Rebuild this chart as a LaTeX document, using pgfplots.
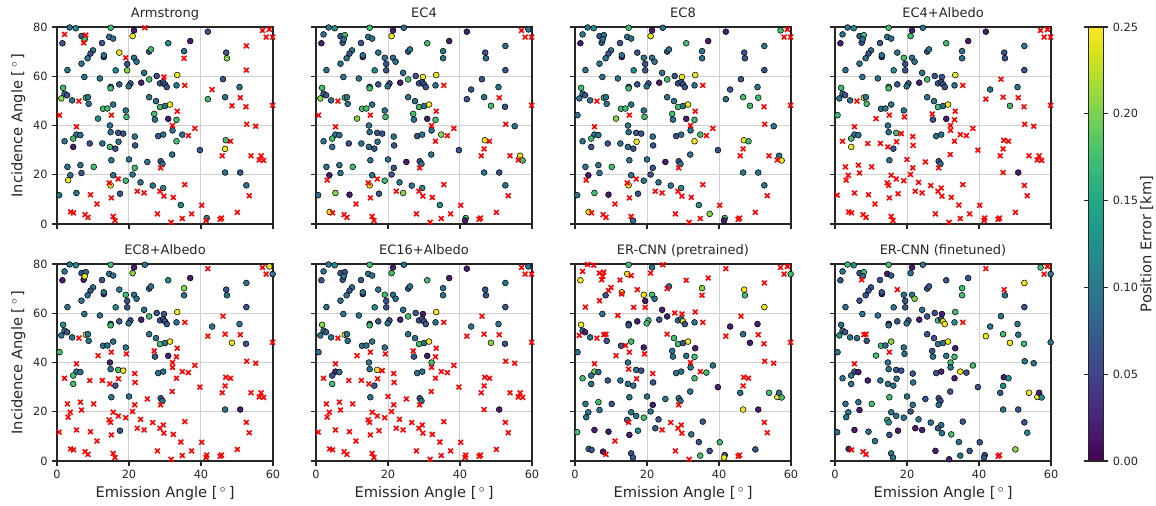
\documentclass[border=0pt]{standalone}
\usepackage{fontspec}
\setmainfont{DejaVu Sans}
\usepackage{pgfplots}
\usepackage{pgfplotstable}
\pgfplotsset{compat=1.18}
\definecolor{axgray}{RGB}{38,38,38}
\definecolor{gridgray}{RGB}{208,208,208}

% columns: a Armstrong, b EC4, c EC8, d EC4+Albedo, e EC8+Albedo, f EC16+Albedo, g ER-CNN pre, h ER-CNN fine ; -1 = failure
\pgfplotstableread{
x y a b c d e f g h
3.5 79.8 0.095 0.095 0.095 0.095 0.095 0.095 -1 0.175
5.2 79.5 0.125 0.125 0.125 0.125 0.125 0.125 -1 0.125
2.1 77.0 -1 0.095 0.095 0.095 0.095 0.095 -1 0.095
1.5 73.4 0.065 0.02 0.02 0.02 0.02 0.065 0.245 0.065
6.8 76.3 0.065 0.065 0.065 0.065 0.065 0.065 -1 0.065
8.0 76.7 -1 0.175 0.095 0.175 0.095 0.065 -1 0.175
7.4 73.6 -1 0.065 0.065 0.065 0.02 0.065 -1 -1
7.7 75.0 0.175 0.095 0.095 0.095 0.245 0.095 -1 0.095
12.5 73.5 0.065 0.065 0.065 0.065 0.065 0.065 -1 0.065
14.5 76.0 0.095 0.095 0.095 0.095 0.095 0.095 0.245 0.02
15.6 75.3 0.095 0.095 0.095 0.095 0.095 0.095 -1 0.065
14.9 79.7 0.175 0.175 0.175 0.175 0.175 0.175 0.175 0.175
21.4 78.6 0.02 0.02 0.02 0.02 0.02 0.02 0.095 0.02
21.0 76.3 0.245 0.245 0.245 0.175 0.205 0.175 -1 0.095
24.4 79.7 -1 0.095 0.095 0.095 0.095 0.095 -1 0.095
30.9 73.4 0.125 0.175 0.175 0.175 0.125 0.175 -1 0.065
37.0 74.3 0.02 0.02 0.02 0.02 0.02 0.02 -1 0.065
41.9 78.1 0.065 0.02 0.02 0.02 -1 0.02 -1 -1
52.6 72.3 -1 0.095 0.095 0.095 0.095 0.095 -1 0.245
57.1 78.6 -1 -1 0.175 -1 -1 -1 -1 0.175
59.0 79.0 -1 0.095 -1 -1 0.245 0.095 -1 -1
58.1 75.9 -1 -1 -1 -1 -1 -1 -1 -1
59.9 75.9 -1 -1 -1 -1 0.095 -1 0.175 0.095
10.0 70.5 0.095 0.095 0.095 0.095 0.095 0.095 -1 0.065
9.3 69.2 0.065 0.065 0.065 0.065 0.065 0.065 -1 0.065
8.5 67.3 0.095 0.095 0.095 0.095 0.095 0.095 0.065 0.065
6.8 65.1 0.095 0.095 0.095 0.095 0.095 0.095 -1 0.065
13.0 67.8 0.02 0.02 0.02 0.02 0.02 0.02 -1 0.02
13.0 68.5 0.095 0.095 0.095 0.095 0.095 0.095 0.245 0.065
17.3 69.6 0.245 0.095 0.065 0.095 0.095 0.095 -1 -1
19.1 67.5 -1 0.095 0.095 0.175 0.175 0.175 0.245 0.095
21.4 67.5 0.095 0.095 0.095 0.095 0.095 0.095 0.175 0.095
22.1 65.9 0.095 0.095 0.095 0.095 0.095 0.095 0.095 0.205
19.5 65.0 0.065 0.065 0.065 0.065 0.065 0.065 0.02 0.065
19.5 62.4 0.205 0.065 0.065 0.065 0.065 0.065 -1 0.065
16.3 62.4 0.125 0.125 0.125 0.125 0.125 0.125 -1 0.095
25.6 70.0 0.065 0.065 0.065 0.065 0.065 0.065 -1 0.065
26.1 70.9 0.175 0.095 0.095 0.095 0.095 0.095 0.095 0.065
35.3 70.2 0.095 0.095 0.095 0.095 0.205 0.095 0.205 0.175
35.3 67.3 -1 0.095 0.095 0.095 0.095 0.095 -1 0.175
47.0 69.6 0.065 0.065 0.065 0.065 0.065 0.065 0.245 -1
47.2 67.3 0.205 0.095 0.065 0.065 0.095 0.065 0.175 0.095
52.6 62.5 -1 0.065 0.065 0.065 0.065 0.065 0.245 0.065
2.9 62.5 0.095 0.095 0.095 0.095 0.095 0.095 -1 0.095
7.6 59.7 0.095 0.095 0.095 0.095 0.095 0.095 0.095 0.095
11.9 59.1 0.095 0.095 0.095 0.095 0.095 0.095 -1 0.095
17.3 56.7 0.065 0.065 0.065 0.065 0.065 0.065 0.02 0.065
14.9 55.7 0.095 0.095 0.095 0.175 0.095 0.095 0.065 0.02
14.9 55.1 0.175 0.175 0.175 0.175 0.175 0.175 0.065 0.095
20.4 57.1 0.065 0.065 0.065 0.065 0.065 0.065 0.175 0.065
19.9 55.9 0.095 0.095 0.095 0.095 0.095 0.095 0.175 0.095
23.4 57.4 0.02 0.02 0.02 0.02 0.02 0.02 0.065 0.02
24.2 61.4 0.095 0.095 0.095 0.095 0.095 0.095 0.02 0.095
25.6 58.7 0.175 0.175 0.175 0.175 0.175 0.175 0.02 0.065
27.7 60.1 0.065 0.065 0.065 0.065 0.065 0.065 -1 0.065
29.7 59.7 -1 0.245 0.245 0.065 0.065 0.02 -1 0.02
28.6 57.1 0.065 0.065 0.065 0.065 0.065 0.065 0.095 0.175
29.5 57.6 0.065 0.065 0.065 0.065 0.065 0.065 0.095 0.065
30.0 56.7 0.065 0.065 0.065 0.065 0.065 0.065 0.245 0.245
30.5 55.6 0.065 0.065 0.065 0.065 0.065 0.065 0.065 0.245
33.4 60.5 0.245 0.245 0.245 0.245 0.245 0.245 -1 0.175
33.2 56.3 0.095 0.095 0.095 0.095 0.095 0.095 0.095 0.125
35.5 56.3 -1 -1 -1 -1 -1 -1 -1 -1
46.1 58.8 0.065 0.065 0.065 -1 -1 -1 -1 0.095
43.1 54.6 -1 0.065 0.065 0.095 0.095 0.095 0.02 0.095
50.7 55.6 0.095 0.095 0.095 0.095 0.095 0.095 0.02 0.095
1.7 55.3 0.175 0.175 0.175 0.175 0.125 0.205 0.245 0.095
2.1 52.9 0.095 0.095 0.095 0.095 0.095 0.095 0.095 0.095
1.2 51.0 0.205 0.205 0.095 0.095 0.095 0.095 -1 0.125
2.8 52.3 0.065 0.065 0.065 0.065 0.065 0.065 0.02 0.065
4.2 50.2 0.095 0.095 0.095 0.095 0.095 0.095 0.095 0.095
6.1 49.9 -1 -1 -1 -1 -1 -1 -1 0.095
8.0 51.3 0.175 0.175 0.175 0.245 0.245 0.245 -1 -1
8.6 51.5 0.095 0.095 0.095 0.095 0.095 0.095 -1 -1
8.8 48.8 0.095 0.095 0.095 0.175 0.095 0.095 0.065 0.065
0.7 44.2 -1 -1 0.095 0.175 0.175 0.095 0.095 0.095
11.4 42.8 0.125 0.205 0.205 -1 -1 -1 -1 0.175
12.8 46.8 0.175 0.175 0.175 0.095 0.095 0.095 0.065 0.175
14.0 46.9 0.175 0.175 0.175 0.095 0.095 0.095 -1 0.095
15.6 48.5 0.095 0.095 0.095 0.095 0.095 0.095 0.175 0.205
15.1 44.2 -1 -1 -1 -1 -1 -1 -1 -1
19.1 46.1 0.095 0.095 0.095 0.095 0.095 0.095 0.02 0.095
19.3 43.5 0.175 0.175 0.175 -1 -1 -1 -1 0.095
25.6 51.5 0.095 0.095 0.095 0.095 0.095 0.095 -1 0.065
27.5 49.9 0.095 0.095 0.095 0.095 0.095 0.095 0.175 0.065
28.6 47.5 0.175 0.175 0.175 0.175 0.175 0.175 0.175 0.095
30.0 47.9 0.095 0.095 0.095 0.095 0.095 0.095 0.065 0.095
31.4 48.5 0.245 0.245 0.245 0.245 0.245 0.245 0.245 0.245
33.4 45.8 -1 -1 -1 -1 -1 -1 0.02 0.02
27.0 44.7 0.175 0.175 0.175 -1 -1 -1 0.095 0.065
27.2 42.4 0.095 0.095 0.095 0.065 0.065 0.065 0.095 0.095
30.9 42.7 0.02 0.02 0.02 0.02 0.02 0.02 0.095 0.095
33.2 42.3 0.175 0.175 0.175 -1 -1 -1 0.175 0.175
41.9 50.7 0.175 0.065 0.095 -1 -1 -1 -1 0.245
46.7 51.5 0.095 0.095 0.175 -1 -1 -1 0.095 0.175
50.9 51.3 -1 -1 0.175 -1 -1 -1 -1 0.095
48.6 48.0 -1 0.175 0.175 0.175 0.245 0.205 0.02 0.245
52.5 47.6 -1 0.065 -1 -1 0.065 0.065 -1 0.175
59.9 48.2 -1 -1 -1 -1 -1 -1 -1 0.095
5.4 39.5 -1 -1 -1 -1 -1 -1 -1 -1
14.7 40.0 0.095 0.095 0.095 0.095 0.02 0.095 0.095 0.095
32.1 40.0 -1 -1 -1 -1 -1 0.175 -1 0.175
32.1 38.0 0.095 0.095 0.095 -1 -1 -1 0.095 0.095
38.3 38.8 -1 -1 -1 -1 -1 -1 0.095 0.175
52.7 40.5 -1 -1 -1 -1 -1 -1 -1 0.095
55.2 39.7 -1 0.095 0.095 -1 -1 -1 -1 0.095
5.4 36.3 0.095 0.095 0.095 0.095 0.095 0.02 0.205 0.065
6.5 36.1 0.095 0.095 0.095 0.095 0.095 0.095 0.095 0.02
4.5 34.7 0.175 0.175 0.175 0.175 0.175 0.065 0.095 0.095
2.1 33.6 0.095 0.095 0.095 -1 -1 -1 0.175 0.095
4.5 31.3 0.02 0.095 0.065 0.245 0.175 0.175 0.095 0.095
9.1 32.7 0.065 0.065 0.065 -1 -1 -1 0.065 0.02
12.6 32.7 0.095 0.095 0.095 -1 -1 -1 0.095 0.095
14.9 37.3 0.095 0.095 0.095 0.095 0.095 0.095 -1 0.095
17.0 37.0 0.065 0.065 0.065 0.175 0.175 0.245 0.095 0.065
18.4 36.7 0.065 0.065 0.065 -1 0.245 -1 0.065 0.065
17.1 33.4 0.095 0.095 0.245 -1 -1 -1 -1 0.095
14.7 31.3 0.175 0.095 0.095 -1 -1 -1 0.095 0.095
16.2 30.6 0.065 0.065 0.065 0.065 0.065 0.065 0.095 0.095
21.6 35.5 0.095 0.095 0.095 -1 -1 -1 -1 0.065
21.7 31.9 0.065 0.065 0.065 -1 -1 -1 0.065 0.095
28.1 35.7 0.065 0.065 0.065 0.095 0.095 0.095 0.095 0.065
29.5 36.3 0.095 0.095 0.095 0.095 0.095 0.095 0.095 0.02
33.2 33.6 0.175 -1 0.245 -1 -1 -1 0.175 0.02
34.8 36.3 0.095 0.205 0.175 -1 -1 -1 -1 0.245
36.5 35.9 -1 -1 -1 -1 -1 -1 0.175 0.065
46.9 34.0 0.175 0.245 0.245 -1 -1 -1 -1 0.02
48.2 33.6 -1 -1 0.175 -1 -1 -1 -1 0.125
46.7 30.5 0.245 -1 -1 -1 -1 -1 -1 0.125
39.7 30.0 0.065 0.065 0.065 -1 -1 -1 0.02 0.065
32.0 28.2 0.095 0.095 0.095 -1 -1 -1 0.095 0.065
45.9 27.7 -1 -1 -1 -1 -1 -1 0.095 0.065
53.9 27.7 -1 -1 -1 -1 -1 -1 0.175 0.245
56.2 26.0 -1 -1 -1 -1 -1 -1 0.245 0.245
56.7 27.7 -1 0.245 0.095 -1 -1 -1 0.095 0.02
57.4 25.8 -1 0.175 0.245 -1 -1 -1 0.175 0.125
2.9 23.2 0.095 0.095 0.095 -1 -1 -1 0.095 0.095
6.5 23.9 0.095 0.095 0.095 -1 -1 -1 0.175 0.095
10.2 23.2 0.175 0.175 0.175 -1 -1 -1 0.065 0.175
15.1 25.9 0.095 0.095 0.095 0.095 0.095 0.095 0.095 0.175
20.0 26.2 0.095 0.095 0.095 -1 0.095 -1 0.095 0.095
21.6 22.8 0.175 0.065 0.065 -1 -1 -1 0.02 0.095
25.1 25.2 0.095 0.02 0.02 -1 -1 -1 0.095 0.065
28.8 25.5 0.065 0.065 0.065 0.065 0.065 0.065 0.095 0.065
29.3 24.4 0.095 0.095 0.095 0.095 0.095 0.095 0.095 0.065
28.8 22.8 -1 -1 -1 -1 -1 -1 -1 0.095
3.7 19.8 0.095 0.02 0.02 -1 -1 -1 0.095 0.095
3.1 17.8 0.245 -1 -1 -1 -1 -1 0.095 0.095
6.8 20.7 0.065 0.095 0.095 -1 -1 -1 0.095 0.02
15.6 19.8 0.095 0.095 0.095 -1 -1 -1 0.095 0.095
17.0 18.3 -1 -1 -1 -1 -1 -1 0.095 0.095
19.1 17.6 0.175 0.175 0.095 -1 -1 -1 0.175 0.095
21.0 20.1 0.095 0.065 0.065 -1 -1 -1 0.095 0.065
14.5 16.7 -1 -1 -1 -1 -1 -1 0.095 0.175
14.9 15.7 0.245 0.245 0.245 -1 -1 -1 -1 0.125
23.2 16.9 0.095 0.095 0.095 -1 -1 -1 0.065 0.095
26.6 15.6 0.095 0.095 0.095 -1 -1 -1 -1 0.095
29.5 14.6 0.125 0.125 0.125 -1 -1 -1 -1 0.095
28.6 13.3 -1 -1 -1 -1 -1 -1 -1 0.065
29.7 11.3 -1 -1 -1 -1 -1 -1 -1 0.095
22.3 13.3 -1 -1 -1 -1 -1 -1 0.065 0.02
24.2 12.6 -1 0.205 -1 -1 -1 -1 -1 0.02
32.3 10.8 -1 -1 -1 -1 -1 -1 0.095 0.175
35.5 16.0 -1 -1 -1 -1 -1 -1 0.065 0.065
46.7 20.9 0.095 0.095 0.095 -1 0.095 -1 0.245 0.095
50.9 20.9 0.065 0.065 0.095 0.02 0.02 0.02 0.02 0.065
52.6 15.7 0.095 0.095 0.095 -1 -1 -1 -1 0.065
53.4 11.5 -1 -1 -1 -1 -1 -1 -1 0.125
0.6 11.7 0.095 0.095 0.095 -1 -1 -1 0.175 0.095
5.4 12.6 0.095 0.205 0.175 -1 -1 -1 0.02 0.02
9.3 11.9 -1 0.02 0.02 -1 -1 -1 0.02 0.095
15.1 10.6 -1 -1 -1 -1 -1 -1 0.02 0.065
17.5 12.3 0.065 0.065 0.065 -1 0.065 -1 0.125 0.02
11.1 8.1 -1 -1 -1 -1 -1 -1 -1 0.095
34.4 7.7 0.125 0.125 0.125 -1 -1 -1 0.065 0.095
40.2 7.6 -1 -1 -1 -1 -1 -1 0.175 0.065
3.8 4.9 -1 0.245 0.245 -1 -1 -1 0.095 0.02
4.6 4.5 -1 -1 -1 -1 -1 -1 0.065 -1
7.8 3.8 -1 -1 -1 -1 -1 -1 0.02 -1
8.6 2.7 -1 -1 -1 -1 -1 -1 -1 -1
15.6 3.1 -1 -1 -1 -1 -1 -1 0.065 0.095
16.1 1.4 -1 -1 0.095 -1 -1 -1 0.065 0.095
27.9 4.1 -1 -1 -1 -1 -1 -1 -1 0.02
31.7 0.7 -1 -1 -1 -1 -1 -1 -1 0.02
34.8 2.2 -1 -1 -1 -1 -1 -1 0.175 0.095
37.4 4.1 -1 -1 0.205 -1 -1 -1 0.065 0.065
41.6 2.4 0.095 0.175 0.175 -1 -1 -1 0.065 0.065
41.4 1.4 -1 0.02 0.02 -1 -1 -1 0.245 0.065
45.7 2.4 -1 -1 -1 -1 -1 -1 -1 -1
50.1 4.7 -1 -1 -1 -1 -1 -1 0.065 0.205
45.3 1.9 -1 -1 -1 -1 -1 -1 -1 -1
}\datatab

\pgfplotsset{
  panel/.style={
    scale only axis, width=162pt, height=147.75pt, anchor=south west,
    xmin=0, xmax=60, ymin=0, ymax=80,
    xtick={0,20,40,60}, ytick={0,20,40,60,80},
    grid=major, major grid style={draw=gridgray, line width=0.75pt},
    axis line style={draw=axgray, line width=0.9pt},
    tick style={draw=axgray, line width=0.9pt},
    tick align=outside, tick pos=left, major tick length=3.5pt,
    ticklabel style={font=\fontsize{8.5}{10}\selectfont, text=axgray},
    /pgf/number format/assume math mode=true,
    title style={font=\fontsize{9.75}{11}\selectfont, text=axgray, at={(axis description cs:0.5,1)}, anchor=base, yshift=1.5pt},
    label style={font=\fontsize{11}{13}\selectfont, text=axgray},
    xlabel style={at={(axis description cs:0.5,0)}, anchor=base, yshift=-27.5pt},
    ylabel style={at={(axis description cs:-0.16,0.5)}, anchor=base},
    colormap/viridis, point meta min=0, point meta max=0.25,
  },
}

\newcommand{\panel}[4]{%
\begin{axis}[panel, at={#1}, title={#2}, #4]
\addplot[scatter, only marks, mark=*, mark size=2.2pt, scatter src=explicit,
  scatter/use mapped color={draw=black, fill=mapped color},
  mark options={line width=0.4pt},
  restrict expr to domain={\thisrow{#3}}{0:1}] table[x=x, y=y, meta=#3]{\datatab};
\addplot[only marks, mark=x, mark size=2.5pt, draw=red,
  mark options={line width=1.2pt, draw=red},
  restrict expr to domain={\thisrow{#3}}{-2:-0.5}] table[x=x, y=y]{\datatab};
\end{axis}}

\begin{document}
\begin{tikzpicture}
\useasboundingbox (0,0) rectangle (867pt,379.5pt);
\panel{(42.75pt,211.5pt)}{Armstrong}{a}{xticklabels={}, ylabel={Incidence Angle [$\,^\circ\,$]}}
\panel{(237pt,211.5pt)}{EC4}{b}{xticklabels={}, yticklabels={}}
\panel{(431.25pt,211.5pt)}{EC8}{c}{xticklabels={}, yticklabels={}}
\panel{(626.25pt,211.5pt)}{EC4+Albedo}{d}{xticklabels={}, yticklabels={}}
\panel{(42.75pt,33.75pt)}{EC8+Albedo}{e}{ylabel={Incidence Angle [$\,^\circ\,$]}, xlabel={Emission Angle [$\,^\circ\,$]}}
\panel{(237pt,33.75pt)}{EC16+Albedo}{f}{yticklabels={}, xlabel={Emission Angle [$\,^\circ\,$]}}
\panel{(431.25pt,33.75pt)}{ER-CNN (pretrained)}{g}{yticklabels={}, xlabel={Emission Angle [$\,^\circ\,$]}}
\panel{(626.25pt,33.75pt)}{ER-CNN (finetuned)}{h}{yticklabels={}, xlabel={Emission Angle [$\,^\circ\,$]},
  colorbar,
  colorbar style={at={(parent axis.south east)}, anchor=south west, xshift=19.5pt,
    width=11.25pt, height=325.5pt, scale only axis,
    ytick={0,0.05,0.1,0.15,0.2,0.25},
    yticklabel style={font=\fontsize{8.5}{10}\selectfont, text=axgray,
      /pgf/number format/fixed, /pgf/number format/fixed zerofill, /pgf/number format/precision=2},
    /pgf/number format/assume math mode=true,
    ylabel={Position Error [km]},
    ylabel style={font=\fontsize{11}{13}\selectfont, text=axgray, at={(axis description cs:4.2,0.5)}, anchor=base},
    axis line style={draw=axgray, line width=0.9pt},
    tick style={draw=axgray, line width=0.9pt},
    tick align=outside, major tick length=3.5pt}}
\end{tikzpicture}
\end{document}
